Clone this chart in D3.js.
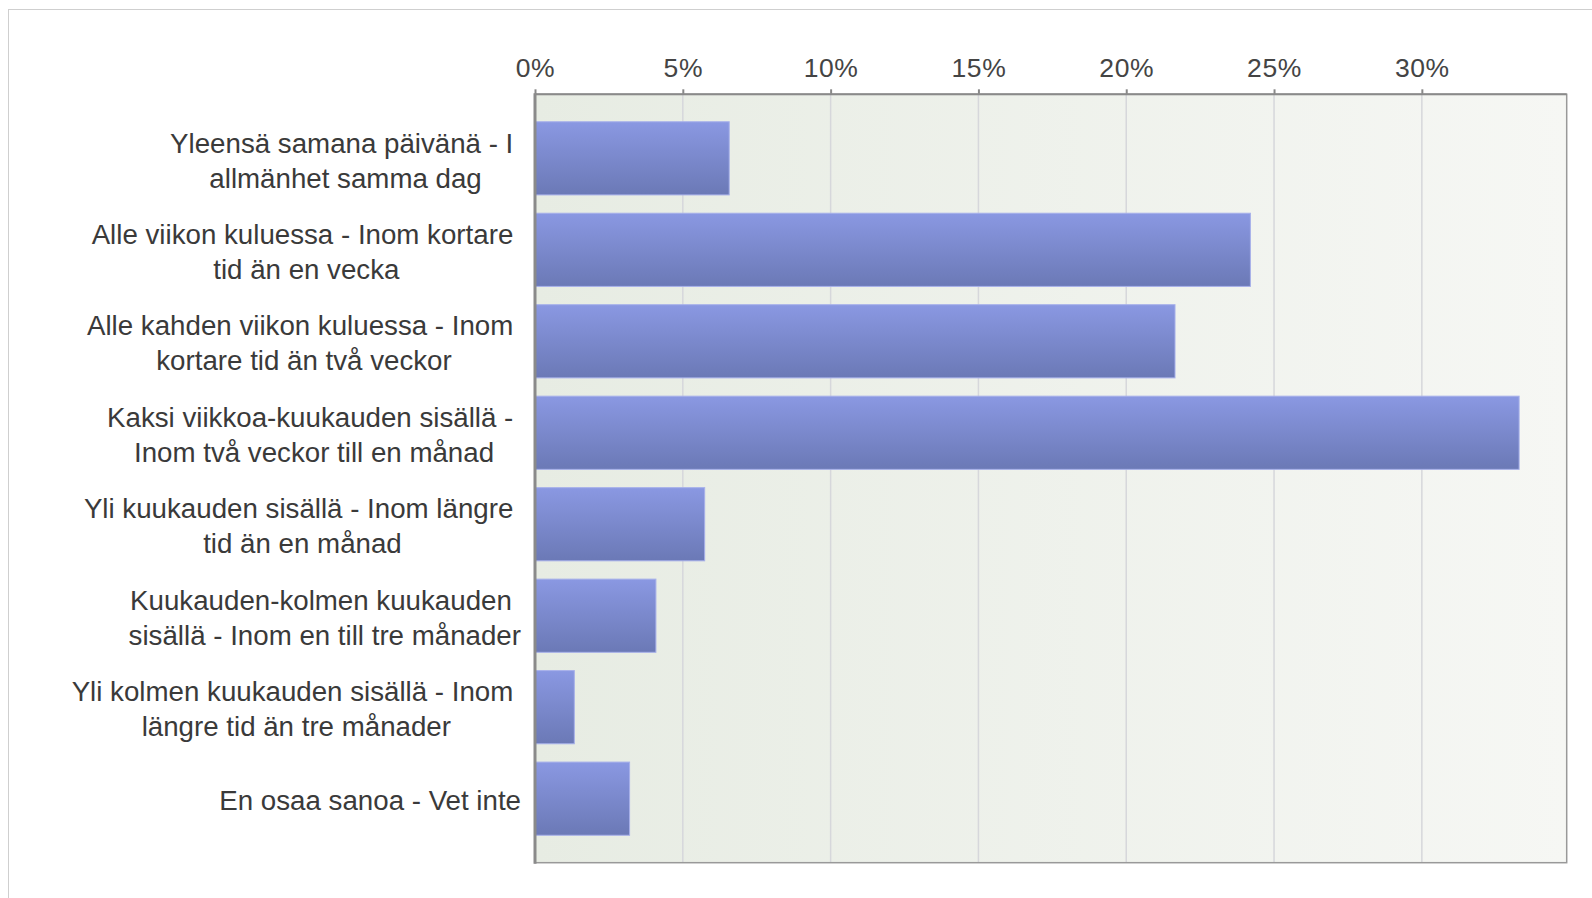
<!DOCTYPE html>
<html>
<head>
<meta charset="utf-8">
<script src="https://cdn.jsdelivr.net/npm/d3@7/dist/d3.min.js"></script>
<style>
  body { margin: 0; background: #fff; }
  svg { display: block; }
  .cat text { font-family: "Liberation Sans", Arial, sans-serif; font-size: 27.7px; fill: #3a3a3a; white-space: pre; }
  .tick-label { font-family: "Liberation Sans", Arial, sans-serif; font-size: 26.5px; fill: #444; letter-spacing: 0.6px; }
</style>
</head>
<body>
<script>
// answer categories, each one already split into its two display lines
var categories = [
    ["Yleensä samana päivänä - I ", "allmänhet samma dag"],
    ["Alle viikon kuluessa - Inom kortare ", "tid än en vecka"],
    ["Alle kahden viikon kuluessa - Inom ", "kortare tid än två veckor"],
    ["Kaksi viikkoa-kuukauden sisällä - ", "Inom två veckor till en månad"],
    ["Yli kuukauden sisällä - Inom längre ", "tid än en månad"],
    ["Kuukauden-kolmen kuukauden ", "sisällä - Inom en till tre månader"],
    ["Yli kolmen kuukauden sisällä - Inom ", "längre tid än tre månader"],
    ["En osaa sanoa - Vet inte"]
];
var shares = [6.57, 24.2, 21.65, 33.29, 5.74, 4.09, 1.33, 3.2];
var tickValues = [0, 5, 10, 15, 20, 25, 30];
var axisMax = 34.9;

var width = 1592,
    height = 898;

var plot = {left: 535, right: 1566.7, top: 94.3, bottom: 862.7};
var labelRight = 521;

var svg = d3.select("body").append("svg")
    .attr("width", width)
    .attr("height", height);

var x = d3.scaleLinear()
    .domain([0, axisMax])
    .range([plot.left, plot.right]);

var y = d3.scaleBand()
    .domain(d3.range(categories.length))
    .range([plot.top, plot.bottom])
    .paddingInner(0.2)
    .paddingOuter(0.3);

var defs = svg.append("defs");

var bg = defs.append("linearGradient").attr("id", "bg")
    .attr("x1", 0).attr("y1", 0).attr("x2", 1).attr("y2", 0);
bg.append("stop").attr("offset", 0).attr("stop-color", "#e7ece3");
bg.append("stop").attr("offset", 1).attr("stop-color", "#f6f7f4");

var barGrad = defs.append("linearGradient").attr("id", "bar")
    .attr("x1", 0).attr("y1", 0).attr("x2", 0).attr("y2", 1);
barGrad.append("stop").attr("offset", 0).attr("stop-color", "#8a98e2");
barGrad.append("stop").attr("offset", 1).attr("stop-color", "#6b79b6");

// outer frame
svg.append("rect")
    .attr("x", 8.5).attr("y", 9.5)
    .attr("width", width + 10).attr("height", height + 10)
    .attr("fill", "none")
    .attr("stroke", "#cfcfcf");

// plot background
svg.append("rect")
    .attr("x", plot.left).attr("y", plot.top)
    .attr("width", plot.right - plot.left)
    .attr("height", plot.bottom - plot.top)
    .attr("fill", "url(#bg)");

// grid lines
svg.append("g").selectAll("line")
    .data(tickValues.slice(1))
    .enter().append("line")
    .attr("x1", function(d) { return x(d); })
    .attr("x2", function(d) { return x(d); })
    .attr("y1", plot.top)
    .attr("y2", plot.bottom)
    .attr("stroke", "#d6d7db")
    .attr("stroke-width", 1.5);

// top axis
var axis = svg.append("g")
    .attr("transform", "translate(0," + plot.top + ")")
    .call(d3.axisTop(x)
        .tickValues(tickValues)
        .tickFormat(function(d) { return d + "%"; })
        .tickSize(5)
        .tickPadding(12));
axis.select(".domain").remove();
axis.selectAll(".tick line").attr("stroke", "#888").attr("stroke-width", 2);
axis.selectAll(".tick text")
    .attr("class", "tick-label")
    .attr("fill", null)
    .attr("font-size", null)
    .attr("font-family", null);

// bars
svg.append("g").selectAll("rect")
    .data(shares)
    .enter().append("rect")
    .attr("x", x(0))
    .attr("y", function(d, i) { return y(i); })
    .attr("width", function(d) { return x(d) - x(0); })
    .attr("height", y.bandwidth())
    .attr("fill", "url(#bar)")
    .attr("stroke", "#a7b0ea")
    .attr("stroke-width", 1);

// plot frame
svg.append("rect")
    .attr("x", plot.left).attr("y", plot.top)
    .attr("width", plot.right - plot.left)
    .attr("height", plot.bottom - plot.top)
    .attr("fill", "none")
    .attr("stroke", "#999")
    .attr("stroke-width", 1.5);
svg.append("line")
    .attr("x1", plot.left).attr("x2", plot.left)
    .attr("y1", plot.top - 1).attr("y2", plot.bottom + 1)
    .attr("stroke", "#8a8a8a")
    .attr("stroke-width", 3);
svg.append("line")
    .attr("x1", plot.left).attr("x2", plot.right)
    .attr("y1", plot.top).attr("y2", plot.top)
    .attr("stroke", "#8a8a8a")
    .attr("stroke-width", 2);

// category labels: lines centred inside a block whose right edge is fixed
var lineGap = 35;
var cats = svg.append("g").attr("class", "cat").selectAll("g")
    .data(categories)
    .enter().append("g");

cats.each(function(lines, i) {
    var g = d3.select(this);
    var cy = y(i) + y.bandwidth() / 2 + 2;
    var texts = g.selectAll("text")
        .data(lines)
        .enter().append("text")
        .attr("dy", "0.35em")
        .attr("y", function(d, j) { return cy + (j - (lines.length - 1) / 2) * lineGap; })
        .text(function(d) { return d; });
    var w = d3.max(texts.nodes(), function(n) { return n.getComputedTextLength(); });
    texts.attr("x", labelRight - w / 2).attr("text-anchor", "middle");
});
</script>
</body>
</html>
